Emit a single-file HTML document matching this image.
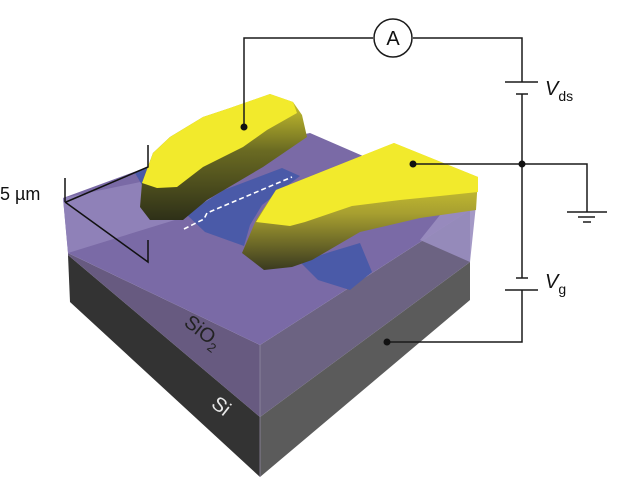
<!DOCTYPE html>
<html><head><meta charset="utf-8"><style>
html,body{margin:0;padding:0;background:#fff;width:617px;height:482px;overflow:hidden}
svg{display:block}
text{font-family:"Liberation Sans","DejaVu Sans",sans-serif}
</style></head><body>
<svg width="617" height="482" viewBox="0 0 617 482" xmlns="http://www.w3.org/2000/svg">
<defs>
<linearGradient id="side1" x1="0" y1="0" x2="0" y2="1">
<stop offset="0" stop-color="#d8d030"/><stop offset="0.45" stop-color="#6a6a22"/><stop offset="1" stop-color="#2e3018"/>
</linearGradient>
<linearGradient id="side2" x1="0" y1="0" x2="0" y2="1">
<stop offset="0" stop-color="#f0e830"/><stop offset="0.55" stop-color="#a8a030"/><stop offset="1" stop-color="#3a3a20"/>
</linearGradient>
</defs>
<!-- Si faces -->
<polygon points="68,255 260,417 260,477 70,302" fill="#333333"/>
<polygon points="260,417 470,262 470,300 260,477" fill="#5b5b5b"/>
<!-- SiO2 side faces -->
<polygon points="68,253 260,345 260,417 68,255" fill="#675a80"/>
<polygon points="260,345 470,210 470,262 260,417" fill="#6c6382"/>
<!-- top surface -->
<polygon points="63,198 150,166 310,133 476,205 470,210 260,345 68,253" fill="#7a6aa6"/>
<!-- light transparent bands -->
<polygon points="63,198 68,253 230,203 150,180" fill="#9385bb" opacity="0.85"/>
<polygon points="476,205 470,262 420,240 440,215" fill="#9a8ec0" opacity="0.9"/>
<line x1="260" y1="345" x2="260" y2="477" stroke="#8f88a0" stroke-width="0.8"/>
<!-- blue channel -->
<polygon points="186,214 224,190 282,168 300,176 262,205 250,225 244,246 205,232" fill="#4a5aa8"/>
<polygon points="300,262 330,252 360,243 372,272 350,290 318,280" fill="#4a5aa8"/>
<polygon points="135,173 150,167 160,170 142,185" fill="#4a5aa8"/>
<!-- left electrode -->
<polygon points="140,207 150,220 183,220 207,200 263,167 307,137 302,115 293,102 270,94 230,108 203,117 170,137 153,153 142,183" fill="url(#side1)"/>
<polygon points="142,183 153,153 170,137 203,117 230,108 270,94 293,102 297,113 267,130 243,147 203,167 177,187 157,188" fill="#f2ea2c"/>
<!-- right electrode -->
<polygon points="242,253 264,270 292,267 312,260 360,232 420,218 476,210 478,177 394,143 276,190 256,220" fill="url(#side2)"/>
<polygon points="256,222 276,190 394,143 478,177 478,192 440,196 400,200 352,206 305,222 290,226" fill="#f2ea2c"/>
<!-- dashed line -->
<polyline points="184,229 204,219 207,213 292,177" fill="none" stroke="#fff" stroke-width="1.6" stroke-dasharray="5,3"/>
<!-- scale bar -->
<g stroke="#111" stroke-width="1.5" fill="none">
<polyline points="148,145 148,167 66,202"/>
<line x1="65" y1="178" x2="65" y2="202"/>
<polyline points="65,202 148,262 148,240"/>
</g>
<text x="0" y="200" font-size="18" fill="#111">5 µm</text>
<!-- labels on box -->
<text x="181" y="330" font-size="20" fill="#222" transform="rotate(38 190 330)">SiO<tspan font-size="13" dy="5">2</tspan></text>
<text x="208" y="412" font-size="20" fill="#e8e8e8" transform="rotate(38 218 412)">Si</text>
<!-- circuit -->
<g stroke="#1a1a1a" stroke-width="1.5" fill="none">
<polyline points="244,127 244,38 373,38"/>
<polyline points="413,38 522,38 522,82"/>
<line x1="505" y1="82" x2="538" y2="82"/>
<line x1="516" y1="94" x2="528" y2="94"/>
<line x1="522" y1="94" x2="522" y2="278"/>
<line x1="516" y1="278" x2="528" y2="278"/>
<line x1="505" y1="290" x2="538" y2="290"/>
<polyline points="522,290 522,342 387,342"/>
<polyline points="413,164 587,164 587,212"/>
<line x1="567" y1="212" x2="607" y2="212"/>
<line x1="578" y1="217" x2="595" y2="217"/>
<line x1="583" y1="222" x2="591" y2="222"/>
<circle cx="393" cy="38" r="19"/>
</g>
<text x="393" y="45" font-size="20" text-anchor="middle" fill="#111">A</text>
<g fill="#111">
<circle cx="244" cy="127" r="3.5"/>
<circle cx="413" cy="164" r="3.5"/>
<circle cx="522" cy="164" r="3.5"/>
<circle cx="387" cy="342" r="3.5"/>
</g>
<text x="545" y="95" font-size="20" font-style="italic" fill="#111">V<tspan font-style="normal" font-size="14" dy="6">ds</tspan></text>
<text x="545" y="288" font-size="20" font-style="italic" fill="#111">V<tspan font-style="normal" font-size="14" dy="6">g</tspan></text>
</svg>
</body></html>
